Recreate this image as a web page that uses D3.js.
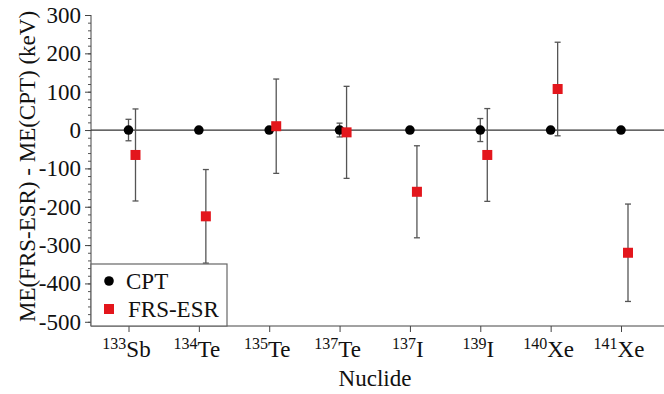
<!DOCTYPE html>
<meta charset="utf-8">
<html>
<head>
<style>
  body { margin: 0; background: #fff; }
  text { font-family: "Liberation Serif", "Times New Roman", serif; fill: #111; }
</style>
</head>
<body>
<div id="chart"></div>
<script src="https://d3js.org/d3.v7.min.js"></script>
<script>

// nuclides: mass number + element
var massNumbers = ["133", "134", "135", "137", "137", "139", "140", "141"];
var elements = ["Sb", "Te", "Te", "Te", "I", "I", "Xe", "Xe"];
var nuclides = massNumbers.map(function(m, i) { return m + elements[i]; });

// CPT reference (difference to itself is zero)
var cptValues = [0, 0, 0, 0, 0, 0, 0, 0];
var cptErrors = [28, 3, 4, 18, 3, 30, 4, 3];

// FRS-ESR - CPT (keV)
var frsValues = [-65, -225, 10, -6, -161, -65, 107, -320];
var frsErrors = [120, 122, 123, 120, 120, 121, 122, 127];

var yTicks = [300, 200, 100, 0, -100, -200, -300, -400, -500];

var W = 664, H = 394;
var plotL = 91, plotR = 664, plotT = 15, plotB = 326;

var svg = d3.select("#chart").append("svg")
  .attr("width", W)
  .attr("height", H);

var x = d3.scalePoint()
  .domain(nuclides)
  .range([128.5, 621]);

var y = d3.scaleLinear()
  .domain([-511, 300])
  .range([plotB, plotT]);

// y axis with minor ticks
var minor = d3.range(-500, 301, 20);
svg.append("g")
  .attr("transform", "translate(" + plotL + ",0)")
  .call(d3.axisLeft(y).tickValues(minor).tickSize(3).tickFormat(""))
  .call(function(g) { g.select(".domain").remove(); })
  .selectAll("line").attr("stroke", "#555");

var yAxis = svg.append("g")
  .attr("transform", "translate(" + plotL + ",0)")
  .call(d3.axisLeft(y).tickValues(yTicks).tickSize(6).tickPadding(4)
    .tickFormat(function(d) { return d < 0 ? "-" + Math.abs(d) : d; }));
yAxis.select(".domain").attr("stroke", "#444").attr("d", "M0," + plotT + "V" + plotB);
yAxis.selectAll("line").attr("stroke", "#444");
yAxis.selectAll("text")
  .attr("fill", "#111")
  .style("font-family", "Liberation Serif")
  .style("font-size", "23px");

// x axis
var xAxis = svg.append("g")
  .attr("transform", "translate(0," + plotB + ")")
  .call(d3.axisBottom(x).tickSize(6).tickFormat(""));
xAxis.select(".domain").attr("stroke", "#444").attr("d", "M" + plotL + ",0H" + plotR);
xAxis.selectAll("line").attr("stroke", "#444");

var labels = svg.append("g").selectAll("text")
  .data(nuclides)
  .join("text")
  .attr("x", function(d) { return x(d) - 2; })
  .attr("y", 357)
  .attr("text-anchor", "middle");
labels.append("tspan")
  .style("font-size", "16px")
  .attr("dy", -8)
  .text(function(d, i) { return massNumbers[i]; });
labels.append("tspan")
  .style("font-size", "23px")
  .attr("dy", 8)
  .text(function(d, i) { return elements[i]; });

// zero line
svg.append("line")
  .attr("x1", plotL).attr("x2", plotR)
  .attr("y1", y(0)).attr("y2", y(0))
  .attr("stroke", "#333")
  .attr("stroke-width", 1.2);

// axis titles
svg.append("text")
  .attr("x", 375)
  .attr("y", 386)
  .attr("text-anchor", "middle")
  .style("font-size", "23px")
  .text("Nuclide");

svg.append("text")
  .attr("transform", "translate(35," + ((plotT + plotB) / 2 - 4) + ") rotate(-90)")
  .attr("text-anchor", "middle")
  .style("font-size", "23px")
  .text("ME(FRS-ESR) - ME(CPT) (keV)");

function errorBars(values, errors, dx) {
  var g = svg.append("g").attr("stroke", "#555").attr("stroke-width", 1.3);
  nuclides.forEach(function(n, i) {
    var cx = x(n) + dx;
    var y1 = y(values[i] + errors[i]), y2 = y(values[i] - errors[i]);
    g.append("line").attr("x1", cx).attr("x2", cx).attr("y1", y1).attr("y2", y2);
    g.append("line").attr("x1", cx - 3).attr("x2", cx + 3).attr("y1", y1).attr("y2", y1);
    g.append("line").attr("x1", cx - 3).attr("x2", cx + 3).attr("y1", y2).attr("y2", y2);
  });
}

errorBars(cptValues, cptErrors, 0);
errorBars(frsValues, frsErrors, 7);

svg.append("g").selectAll("circle")
  .data(cptValues)
  .join("circle")
  .attr("cx", function(d, i) { return x(nuclides[i]); })
  .attr("cy", function(d) { return y(d); })
  .attr("r", 4.8)
  .attr("fill", "#000");

svg.append("g").selectAll("rect")
  .data(frsValues)
  .join("rect")
  .attr("x", function(d, i) { return x(nuclides[i]) + 7 - 5; })
  .attr("y", function(d) { return y(d) - 5; })
  .attr("width", 10)
  .attr("height", 10)
  .attr("fill", "#e3161c");

// legend
var legend = svg.append("g");
legend.append("rect")
  .attr("x", plotL).attr("y", 264)
  .attr("width", 227 - plotL).attr("height", plotB - 264)
  .attr("fill", "#fff")
  .attr("stroke", "#666")
  .attr("stroke-width", 1.2);
legend.append("circle")
  .attr("cx", 109).attr("cy", 281).attr("r", 4.8).attr("fill", "#000");
legend.append("text")
  .attr("x", 126).attr("y", 289)
  .style("font-size", "23px")
  .text("CPT");
legend.append("rect")
  .attr("x", 104).attr("y", 304).attr("width", 10).attr("height", 10)
  .attr("fill", "#e3161c");
legend.append("text")
  .attr("x", 128).attr("y", 317)
  .style("font-size", "23px")
  .text("FRS-ESR");

</script>
</body>
</html>
